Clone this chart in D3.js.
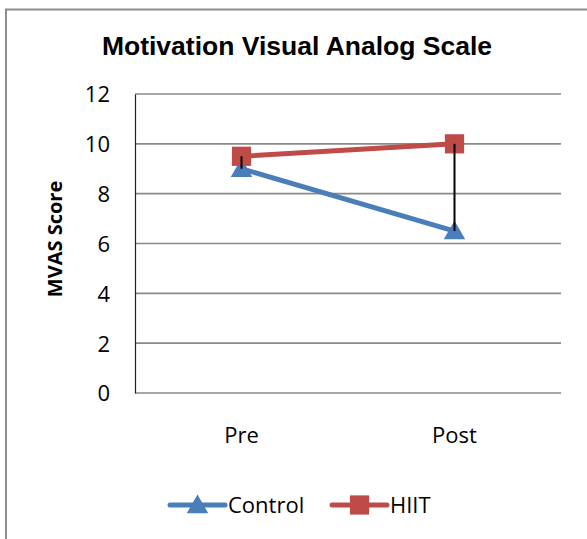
<!DOCTYPE html>
<html>
<head>
<meta charset="utf-8">
<script src="https://cdn.jsdelivr.net/npm/d3@7"></script>
<style>
  body { margin: 0; background: #fff; }
  svg { display: block; }
</style>
</head>
<body>
<div id="chart"></div>
<script>
var categories = ["Pre", "Post"];
var control_values = [9, 6.5];
var hiit_values = [9.5, 10];
var y_ticks = [0, 2, 4, 6, 8, 10, 12];
var series_names = ["Control", "HIIT"];

var width = 587, height = 539;
var margin = { top: 94, right: 26, bottom: 146, left: 135 };
var plot_w = width - margin.left - margin.right,
    plot_h = height - margin.top - margin.bottom;

var label_font = "'Open Sans', 'Noto Sans', sans-serif";

var svg = d3.select("#chart").append("svg")
    .attr("width", width)
    .attr("height", height);

// outer chart border (only top and left are visible in the frame)
svg.append("path")
    .attr("d", "M6,540 L6,9.5 L600,9.5")
    .attr("fill", "none")
    .attr("stroke", "#8c8c8c")
    .attr("stroke-width", 2);

svg.append("text")
    .attr("x", 297)
    .attr("y", 55)
    .attr("text-anchor", "middle")
    .style("font-family", "'Liberation Sans', Arial, sans-serif")
    .style("font-weight", "bold")
    .style("font-size", "26.5px")
    .text("Motivation Visual Analog Scale");

var g = svg.append("g").attr("transform", "translate(" + margin.left + "," + margin.top + ")");

var x = d3.scaleBand().domain(categories).range([0, plot_w]);
var y = d3.scaleLinear().domain([0, 12]).range([plot_h, 0]);

// gridlines
g.selectAll(".grid")
    .data(y_ticks)
    .enter().append("line")
    .attr("x1", 0)
    .attr("x2", plot_w)
    .attr("y1", function (d) { return y(d); })
    .attr("y2", function (d) { return y(d); })
    .attr("stroke", "#8a8a8a")
    .attr("stroke-width", 1.6);

// y axis
var y_axis = g.append("g")
    .call(d3.axisLeft(y).tickValues(y_ticks).tickSize(0).tickPadding(25));
y_axis.select(".domain").attr("stroke", "#222").attr("stroke-width", 1.2);
y_axis.selectAll("text")
    .style("font-family", label_font)
    .style("font-size", "22px")
    .attr("fill", "#000")
    .attr("dy", "0.36em");

// x axis labels
var x_axis = g.append("g")
    .attr("transform", "translate(0," + plot_h + ")")
    .call(d3.axisBottom(x).tickSize(0).tickPadding(34));
x_axis.select(".domain").remove();
x_axis.selectAll("text")
    .style("font-family", label_font)
    .style("font-size", "22px")
    .attr("fill", "#000");

svg.append("text")
    .attr("transform", "translate(62," + 239 + ") rotate(-90)")
    .attr("text-anchor", "middle")
    .style("font-family", label_font)
    .style("font-weight", "bold")
    .style("font-size", "20px")
    .text("MVAS Score");

function cx(i) { return x(categories[i]) + x.bandwidth() / 2; }

var line = d3.line()
    .x(function (d, i) { return cx(i); })
    .y(function (d) { return y(d); });

var blue = "#4a7ebb", red = "#be4b48";

g.append("path").datum(control_values)
    .attr("d", line).attr("fill", "none")
    .attr("stroke", blue).attr("stroke-width", 5).attr("stroke-linecap", "round");
g.append("path").datum(hiit_values)
    .attr("d", line).attr("fill", "none")
    .attr("stroke", red).attr("stroke-width", 5).attr("stroke-linecap", "round");

var tri = d3.symbol().type(d3.symbolTriangle).size(200);
var sq = d3.symbol().type(d3.symbolSquare).size(370);

g.selectAll(".tri").data(control_values).enter().append("path")
    .attr("d", tri)
    .attr("transform", function (d, i) { return "translate(" + cx(i) + "," + (y(d) + 2) + ")"; })
    .attr("fill", blue);

g.selectAll(".sq").data(hiit_values).enter().append("path")
    .attr("d", sq)
    .attr("transform", function (d, i) { return "translate(" + cx(i) + "," + y(d) + ")"; })
    .attr("fill", red);

// high-low lines
g.selectAll(".hilo").data(categories).enter().append("line")
    .attr("x1", function (d, i) { return cx(i); })
    .attr("x2", function (d, i) { return cx(i); })
    .attr("y1", function (d, i) { return y(Math.max(control_values[i], hiit_values[i])); })
    .attr("y2", function (d, i) { return y(Math.min(control_values[i], hiit_values[i])); })
    .attr("stroke", "#000").attr("stroke-width", 2);

// legend
var legend_y = 505;
var leg = [
    { name: series_names[0], color: blue, sym: tri, x: 170, dy: 2 },
    { name: series_names[1], color: red, sym: sq, x: 332, dy: 0 }
];
leg.forEach(function (l) {
    svg.append("line")
        .attr("x1", l.x).attr("x2", l.x + 55)
        .attr("y1", legend_y).attr("y2", legend_y)
        .attr("stroke", l.color).attr("stroke-width", 5).attr("stroke-linecap", "round");
    svg.append("path")
        .attr("d", l.sym)
        .attr("transform", "translate(" + (l.x + 27.5) + "," + (legend_y + l.dy) + ")")
        .attr("fill", l.color);
    svg.append("text")
        .attr("x", l.x + 58)
        .attr("y", legend_y)
        .attr("dy", "0.36em")
        .style("font-family", label_font)
        .style("font-size", "22px")
        .text(l.name);
});
</script>
</body>
</html>
